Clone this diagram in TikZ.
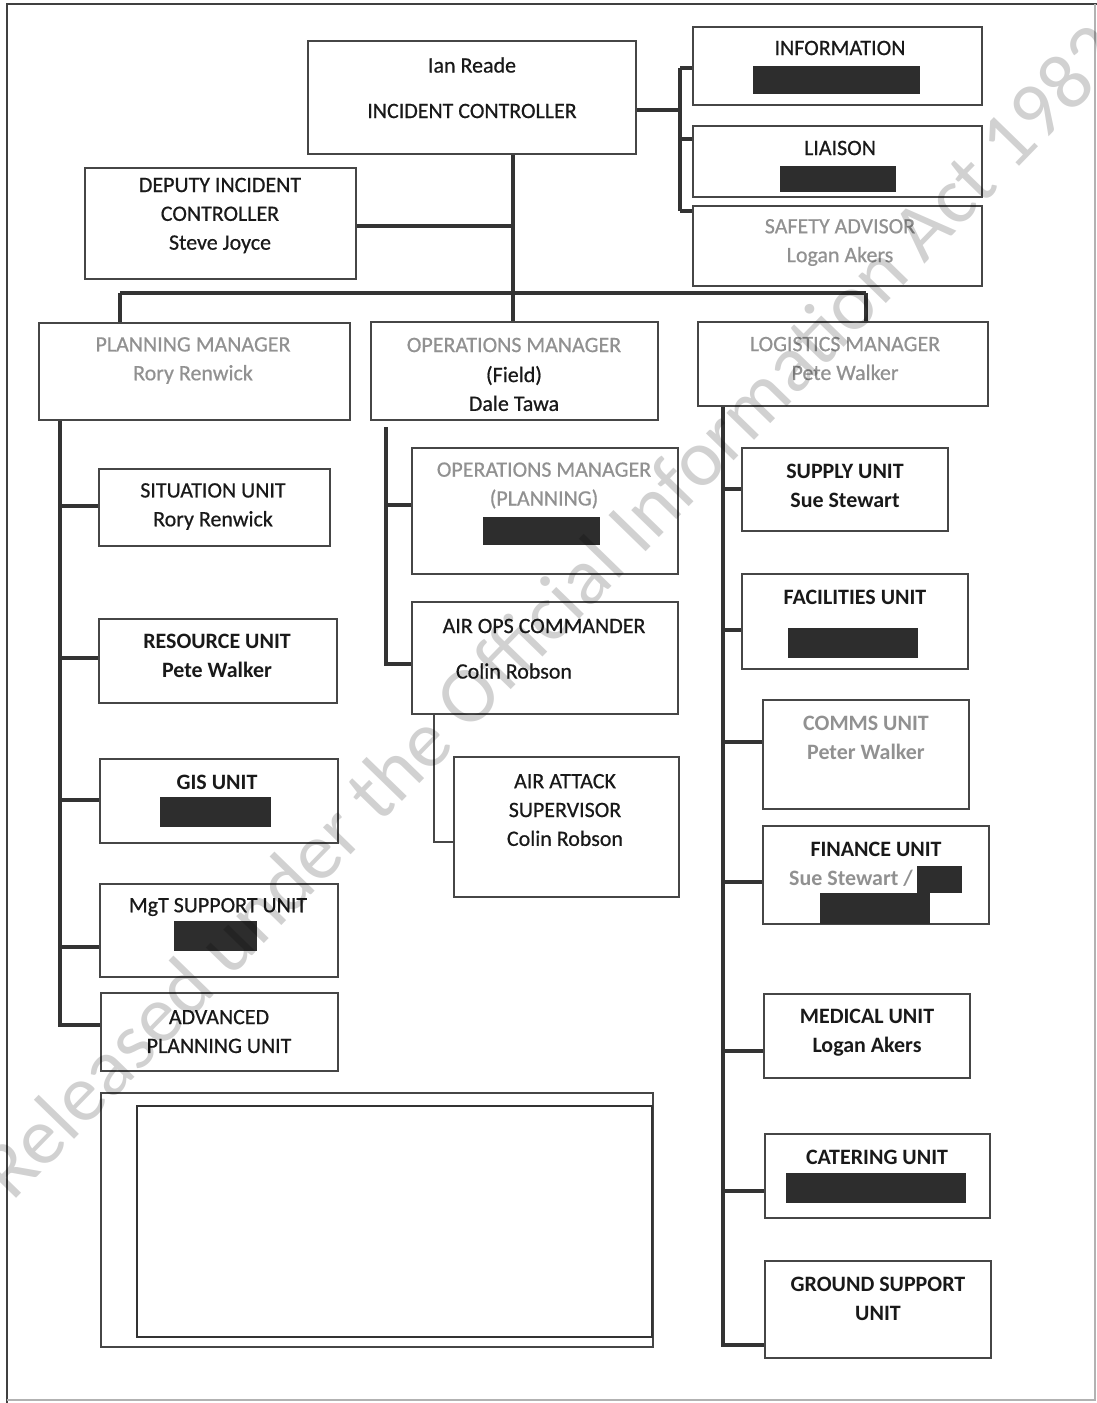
\documentclass[tikz,border=0pt]{standalone}
\usepackage{fontspec}
\setmainfont{Carlito}
\newfontfamily\scanfont[FakeBold=0.6]{Carlito}
\usetikzlibrary{positioning,fit,calc}
\definecolor{boxline}{RGB}{70,70,70}
\definecolor{fadetext}{RGB}{145,145,145}
\definecolor{redact}{RGB}{45,45,45}
\tikzset{
  unitbox/.style={draw=boxline,line width=0.8pt,inner sep=0pt},
  lbl/.style={align=center,inner sep=0pt,text=black!90,font=\scanfont\fontsize{12.5}{16.4}\selectfont},
  lblb/.style={lbl,font=\fontsize{12.5}{16.4}\selectfont\bfseries},
  faded/.style={lbl,text=fadetext},
  link/.style={draw=black!80,line width=1.8pt},
  stamp/.style={inner sep=0pt,text=black,opacity=0.18,font=\fontsize{46}{46}\selectfont}
}
\newcommand{\orgbox}[5]{\node[unitbox,fit={(#2,#3) (#4,#5)}] (#1) {};}
\newcommand{\blackout}[4]{\fill[redact] (#1,#2) rectangle (#3,#4);}

\begin{document}
\begin{tikzpicture}[x=0.02cm,y=-0.02cm]
	\useasboundingbox (0,0) rectangle (1097,1403);
	
	% page frame
	\draw[black!75,line width=1.6pt] (7,1403) -- (7,4) -- (1097,4);
	\draw[black!30,line width=0.6pt] (1095,4) -- (1095,1400) -- (7,1400);
	
	% top level
	\orgbox{IC}{308}{41}{636}{154}
	\orgbox{INFO}{693}{27}{982}{105}
	\orgbox{LIAI}{693}{126}{982}{197}
	\orgbox{SAFE}{693}{206}{982}{286}
	\orgbox{DEP}{85}{168}{356}{279}
	
	\node[lbl] (ICname) at (472,65) {Ian Reade};
	\node[lbl] (ICrole) at (472,111) {INCIDENT CONTROLLER};
	\node[lbl] (INFOt) at (840,48) {INFORMATION};
	\node[lbl] (LIAIt) at (840,148) {LIAISON};
	\node[faded] (SAFEt) at (840,242.5) {SAFETY ADVISOR\\Logan Akers};
	\node[lbl] (DEPt) at (220,215.5) {DEPUTY INCIDENT\\CONTROLLER\\Steve Joyce};
	\blackout{753}{66}{920}{94}
	\blackout{780}{166}{896}{192}
	
	% managers
	\orgbox{PLAN}{39}{323}{350}{420}
	\orgbox{OPS}{371}{322}{658}{420}
	\orgbox{LOG}{698}{322}{988}{406}
	
	\node[faded] (PLANt) at (193,360.5) {PLANNING MANAGER\\Rory Renwick};
	\node[faded] (OPSt) at (514,345) {OPERATIONS MANAGER};
	\node[lbl] (OPSn) at (514,388.5) {(Field)\\Dale Tawa};
	\node[faded] (LOGt) at (845,358.5) {LOGISTICS MANAGER\\Pete Walker};
	
	% planning units
	\orgbox{SIT}{99}{469}{330}{546}
	\orgbox{RES}{99}{619}{337}{703}
	\orgbox{GIS}{100}{759}{338}{843}
	\orgbox{MGT}{100}{884}{338}{977}
	\orgbox{ADV}{101}{993}{338}{1071}
	
	\node[lbl] (SITt) at (213,506.5) {SITUATION UNIT\\Rory Renwick};
	\node[lblb] (RESt) at (217,655.5) {RESOURCE UNIT\\Pete Walker};
	\node[lblb] (GISt) at (217,782) {GIS UNIT};
	\node[lbl] (MGTt) at (218,907) {MgT SUPPORT UNIT};
	\node[lbl] (ADVt) at (219,1031.5) {ADVANCED\\PLANNING UNIT};
	\blackout{160}{797}{271}{827}
	\blackout{174}{921}{257}{951}
	
	% operations units
	\orgbox{OPSP}{412}{448}{678}{574}
	\orgbox{AIROPS}{412}{602}{678}{714}
	\orgbox{AAS}{454}{757}{679}{897}
	
	\node[faded] (OPSPt) at (544,485.5) {OPERATIONS MANAGER\\(PLANNING)};
	\node[lbl] (AIROPSt) at (544,626) {AIR OPS COMMANDER};
	\node[lbl] (AIROPSn) at (514,671) {Colin Robson};
	\node[lbl] (AASt) at (565,810) {AIR ATTACK\\SUPERVISOR\\Colin Robson};
	\blackout{483}{517}{600}{545}
	
	% logistics units
	\orgbox{SUP}{742}{448}{948}{531}
	\orgbox{FAC}{742}{574}{968}{669}
	\orgbox{COMM}{763}{700}{969}{809}
	\orgbox{FIN}{763}{826}{989}{924}
	\orgbox{MED}{764}{994}{970}{1078}
	\orgbox{CAT}{765}{1134}{990}{1218}
	\orgbox{GND}{765}{1261}{991}{1358}
	
	\node[lblb] (SUPt) at (845,485.5) {SUPPLY UNIT\\Sue Stewart};
	\node[lblb] (FACt) at (855,597) {FACILITIES UNIT};
	\node[faded,font=\fontsize{12.5}{16.4}\selectfont\bfseries] (COMMt) at (866,737.5) {COMMS UNIT\\Peter Walker};
	\node[lblb] (FINt) at (876,849) {FINANCE UNIT};
	\node[faded,font=\fontsize{12.5}{16.4}\selectfont\bfseries] (FINn) at (851,878) {Sue Stewart /};
	\node[lblb] (MEDt) at (867,1033) {MEDICAL UNIT\\Logan Akers};
	\node[lblb] (CATt) at (877,1157) {CATERING UNIT};
	\node[lblb] (GNDt) at (878,1298.5) {GROUND SUPPORT\\UNIT};
	\blackout{788}{628}{918}{658}
	\blackout{917}{866}{962}{893}
	\blackout{820}{893}{930}{924}
	\blackout{786}{1173}{966}{1203}
	
	% empty panel
	\draw[boxline,line width=0.7pt] (101,1093) rectangle (653,1347);
	\draw[black!80,line width=1.6pt] (137,1106) rectangle (652,1337);
	
	% links: top
	\coordinate (trunk) at (513,293);
	\coordinate (busL) at (120,293);
	\coordinate (busR) at (866,293);
	\coordinate (staff) at (680,110);
	\draw[link] (IC.south -| trunk) -- (trunk);
	\draw[link] (DEP.east |- 0,226) -- (trunk |- 0,226);
	\draw[link] (busL) -- (busR);
	\draw[link] (busL) -- (busL |- PLAN.north);
	\draw[link] (busR) -- (busR |- LOG.north);
	\draw[link] (trunk) -- (trunk |- OPS.north);
	\draw[link] (IC.east |- staff) -- (staff);
	\draw[link] (staff |- 0,68) -- (staff |- 0,211);
	\draw[link] (staff |- 0,68) -- (INFO.west |- 0,68);
	\draw[link] (staff |- 0,139) -- (LIAI.west |- 0,139);
	\draw[link] (staff |- 0,211) -- (SAFE.west |- 0,211);
	
	% links: planning
	\coordinate (planL) at (60,1025);
	\draw[link] (planL |- PLAN.south) -- (planL) -- (planL -| ADV.west);
	\draw[link] (60,506) -- (SIT.west |- 0,506);
	\draw[link] (60,658) -- (RES.west |- 0,658);
	\draw[link] (60,800) -- (GIS.west |- 0,800);
	\draw[link] (60,947) -- (MGT.west |- 0,947);
	
	% links: operations
	\coordinate (opsL) at (386,664);
	\draw[link] (opsL |- 0,427) -- (opsL) -- (opsL -| AIROPS.west);
	\draw[link] (386,505) -- (OPSP.west |- 0,505);
	\coordinate (airL) at (434,842);
	\draw[boxline,line width=0.9pt] (airL |- AIROPS.south) -- (airL) -- (airL -| AAS.west);
	
	% links: logistics
	\coordinate (logL) at (723,1345);
	\draw[link] (logL |- LOG.south) -- (logL) -- (logL -| GND.west);
	\draw[link] (723,489) -- (SUP.west |- 0,489);
	\draw[link] (723,630) -- (FAC.west |- 0,630);
	\draw[link] (723,742) -- (COMM.west |- 0,742);
	\draw[link] (723,882) -- (FIN.west |- 0,882);
	\draw[link] (723,1051) -- (MED.west |- 0,1051);
	\draw[link] (723,1191) -- (CAT.west |- 0,1191);
	
	% release stamp
	\node[stamp,rotate=45.8] (release) at (550,610) {Released under the Official Information Act 1982};
\end{tikzpicture}
\end{document}
